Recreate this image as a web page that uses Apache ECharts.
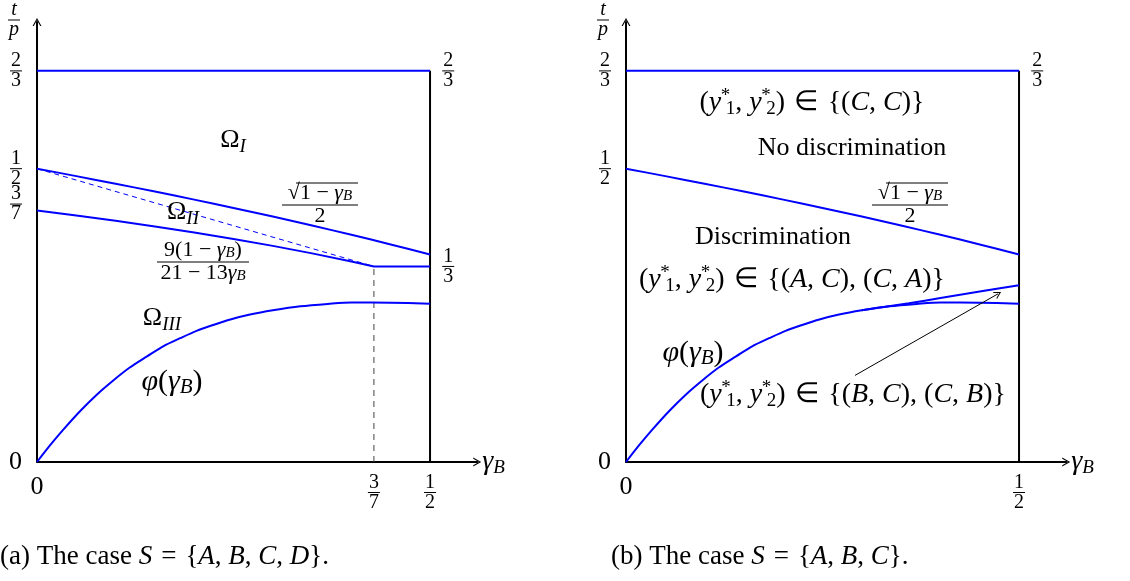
<!DOCTYPE html>
<html><head><meta charset="utf-8">
<script src="https://cdn.jsdelivr.net/npm/echarts@6/dist/echarts.min.js"></script>
<style>html,body{margin:0;padding:0;background:#fff}#c{width:1130px;height:581px}</style>
</head><body><div id="c"></div>
<script>
// ---------- data ----------
const sqrtGamma = [0, 0.05, 0.1, 0.15, 0.2, 0.25, 0.3, 0.35, 0.4, 0.45, 0.5];
const sqrtValue = [0.5, 0.4873, 0.4743, 0.4610, 0.4472, 0.4330, 0.4183, 0.4031, 0.3873, 0.3708, 0.3536];
const boundGamma = [0, 0.05, 0.1, 0.15, 0.2, 0.25, 0.3, 0.35, 0.4, 0.4286, 0.5];
const boundValue = [0.4286, 0.4201, 0.4112, 0.4016, 0.3913, 0.3803, 0.3684, 0.3556, 0.3418, 0.3333, 0.3333];
const chordGamma = [0, 0.4286];
const chordValue = [0.5, 0.3333];
const phiGamma = [0, 0.017, 0.034, 0.055, 0.076, 0.097, 0.118, 0.14, 0.161, 0.182, 0.203, 0.225, 0.246, 0.271, 0.3, 0.335, 0.37, 0.4, 0.45, 0.5];
const phiValue = [0, 0.029, 0.056, 0.087, 0.1148, 0.139, 0.161, 0.180, 0.1976, 0.211, 0.2236, 0.234, 0.243, 0.2513, 0.2585, 0.2654, 0.2695, 0.2719, 0.2715, 0.2699];
const upperGamma = [0.3, 0.33, 0.36, 0.4, 0.45, 0.5];
const upperValue = [0.2585, 0.2645, 0.2705, 0.2795, 0.2905, 0.3014];
const topGamma = [0, 0.5];
const topValue = [0.6667, 0.6667];
const edgeGamma = [0.5, 0.5];
const edgeValue = [0, 0.6667];
const guideGamma = [0.4286, 0.4286];
const guideValue = [0, 0.3333];
const arrowFrom = [0.2913, 0.1476];
const arrowTo = [0.4733, 0.2867];

// tick labels
const xTicksA = [0, 3/7, 1/2];        const xLabelsA = ['0', '3/7', '1/2'];
const yTicksA = [0, 3/7, 1/2, 2/3];   const yLabelsA = ['0', '3/7', '1/2', '2/3'];
const yRightTicksA = [1/3, 2/3];      const yRightLabelsA = ['1/3', '2/3'];
const xTicksB = [0, 1/2];             const xLabelsB = ['0', '1/2'];
const yTicksB = [0, 1/2, 2/3];        const yLabelsB = ['0', '1/2', '2/3'];
const yRightTicksB = [2/3];           const yRightLabelsB = ['2/3'];

// ---------- helpers ----------
const SERIF = 'Liberation Serif';
const BLUE = '#0000ff';
const zip = (a, b) => a.map((v, i) => [v, b[i]]);
const fracRich = {
  z: {fontFamily: SERIF, fontSize: 26, lineHeight: 26, color: '#000'},
  n: {fontFamily: SERIF, fontSize: 20, lineHeight: 17, align: 'center', color: '#000'},
  d: {fontFamily: SERIF, fontSize: 20, lineHeight: 17, align: 'center', color: '#000'},
  bar: {width: 12, height: 1, lineHeight: 3, backgroundColor: '#000', align: 'center'},
  sp: {lineHeight: 13}
};
function labelText(lab, shiftUp) {
  if (lab.indexOf('/') < 0) return '{z|' + lab + '}';
  const [a, b] = lab.split('/');
  return '{n|' + a + '}\n{bar| }\n{d|' + b + '}' + (shiftUp ? '\n{sp| }' : '');
}
function lookup(ticks, labels, shiftVal) {
  return function (v) {
    const i = ticks.findIndex(t => Math.abs(t - v) < 1e-9);
    if (i < 0) return '';
    return labelText(labels[i], shiftVal != null && Math.abs(ticks[i] - shiftVal) < 1e-9);
  };
}
const ARROW = 'path://M0,9 L5,0 L10,9 L8.6,9 L5,2.6 L1.4,9 Z';
const axisLineStyle = {show: true, onZero: false, symbol: ['none', ARROW], symbolSize: [10, 8],
  lineStyle: {color: '#000', width: 2}};
const gammaName = '{i|γ}{s|B}';
const nameRich = {
  i: {fontFamily: SERIF, fontSize: 28, fontStyle: 'italic', lineHeight: 30},
  s: {fontFamily: SERIF, fontSize: 19, fontStyle: 'italic', lineHeight: 18, verticalAlign: 'bottom'}
};

function xAxisFor(idx, ticks, labels) {
  return {
    gridIndex: idx, type: 'value', min: 0, max: 0.56,
    axisLine: axisLineStyle, axisTick: {show: false}, splitLine: {show: false},
    axisLabel: {customValues: ticks, formatter: lookup(ticks, labels), rich: fracRich, margin: 12},
    name: gammaName, nameLocation: 'end', nameGap: 5,
    nameTextStyle: {rich: nameRich, align: 'left', verticalAlign: 'middle'}
  };
}
function yAxisFor(idx, ticks, labels, shiftVal) {
  return {
    gridIndex: idx, type: 'value', min: 0, max: 0.75,
    axisLine: axisLineStyle, axisTick: {show: false}, splitLine: {show: false},
    axisLabel: {customValues: ticks, formatter: lookup(ticks, labels, shiftVal), rich: fracRich, margin: 15},
    name: '{n|t}\n{bar| }\n{d|p}', nameLocation: 'end', nameGap: 2,
    nameTextStyle: {rich: {n: Object.assign({}, fracRich.n, {fontStyle: 'italic'}), d: Object.assign({}, fracRich.d, {fontStyle: 'italic'}), bar: fracRich.bar},
      align: 'right', verticalAlign: 'middle', padding: [0, 17, 0, 0]}
  };
}
function yRightFor(idx, ticks, labels) {
  return {
    gridIndex: idx, type: 'value', min: 0, max: 0.75, position: 'right', offset: -47,
    axisLine: {show: false}, axisTick: {show: false}, splitLine: {show: false},
    axisLabel: {customValues: ticks, formatter: lookup(ticks, labels), rich: fracRich, margin: 12}
  };
}
function lineSeries(xi, yi, gx, gy, opts) {
  return Object.assign({
    type: 'line', xAxisIndex: xi, yAxisIndex: yi, data: zip(gx, gy), showSymbol: false, symbol: 'none',
    silent: true, animation: false, lineStyle: {color: BLUE, width: 2}
  }, opts || {});
}

// ---------- text annotations ----------
const M = {
  i: {fontFamily: SERIF, fontSize: 28, fontStyle: 'italic', lineHeight: 32},
  s: {fontFamily: SERIF, fontSize: 19, fontStyle: 'italic', lineHeight: 18, verticalAlign: 'bottom'},
  sn: {fontFamily: SERIF, fontSize: 19, lineHeight: 18, verticalAlign: 'bottom'},
  p: {fontFamily: SERIF, fontSize: 19, lineHeight: 18, verticalAlign: 'top', width: 0.5},
  g: {width: 4},
  pi: {fontFamily: SERIF, fontSize: 30, fontStyle: 'italic', lineHeight: 32},
  pr: {fontFamily: SERIF, fontSize: 30, lineHeight: 32},
  ps: {fontFamily: SERIF, fontSize: 21, fontStyle: 'italic', lineHeight: 19, verticalAlign: 'bottom'},
  n: {fontFamily: SERIF, fontSize: 22, lineHeight: 20},
  ni: {fontFamily: SERIF, fontSize: 22, fontStyle: 'italic', lineHeight: 20},
  ns: {fontFamily: SERIF, fontSize: 15, fontStyle: 'italic', lineHeight: 15, verticalAlign: 'bottom'},
  bar1: {width: 76, height: 1, lineHeight: 3, backgroundColor: '#000'},
  bar2: {width: 92, height: 1, lineHeight: 3, backgroundColor: '#000'}
};
function txt(x, y, text, size) {
  return {type: 'text', x: x, y: y, silent: true, z: 100,
    style: {text: text, rich: M, fontFamily: SERIF, fontSize: size || 26, lineHeight: 32, fill: '#000',
      align: 'center', verticalAlign: 'middle'}};
}
const SP = '\u2004';   // three-per-em space (math operator spacing)
const TH = '\u2005';   // four-per-em space
const setHead = '({i|y}{g| }{p|*}{sn|1}, {i|y}{g| }{p|*}{sn|2})' + SP + '∈' + SP;
const setCC = setHead + '{({i|C}, {i|C})}';
const setAC = setHead + '{({i|A}, {i|C}), ({i|C}, {i|A})}';
const setBC = setHead + '{({i|B}, {i|C}), ({i|C}, {i|B})}';
const phiText = '{pi|φ}{pr|(}{pi|γ}{ps|B}{pr|)}';
const sqrtFrac = '{n|√1' + TH + '−' + TH + '}{ni|γ}{ns|B}\n{bar1| }\n{n|2}';
const boundFrac = '{n|9(1' + TH + '−' + TH + '}{ni|γ}{ns|B}{n|)}\n{bar2| }\n{n|21' + TH + '−' + TH + '13}{ni|γ}{ns|B}';

function fracTxt(x, y, text) {
  return {type: 'text', x: x, y: y, silent: true, z: 100,
    style: {text: text, rich: M, fontFamily: SERIF, fontSize: 22, lineHeight: 20, fill: '#000',
      align: 'center', verticalAlign: 'middle'}};
}
function overline(x1, x2, y) {
  return {type: 'line', silent: true, z: 100, shape: {x1: x1, y1: y, x2: x2, y2: y}, style: {stroke: '#000', lineWidth: 1}};
}
const capRich = {i: {fontFamily: SERIF, fontSize: 27, fontStyle: 'italic'}};

const graphics = [
  txt(233, 140, 'Ω{s|I}'),
  txt(183, 212, 'Ω{s|II}'),
  txt(162, 318, 'Ω{s|III}'),
  txt(172, 382, phiText),
  fracTxt(320, 205, sqrtFrac), overline(296, 358, 183),
  fracTxt(203, 262, boundFrac),
  txt(812, 103, setCC, 28),
  txt(852, 148, 'No discrimination'),
  fracTxt(910, 205, sqrtFrac), overline(886, 948, 183),
  txt(773, 237, 'Discrimination'),
  txt(792, 280, setAC, 28),
  txt(693, 353, phiText),
  txt(853, 395, setBC, 28),
  {type: 'text', left: 0, top: 543, silent: true,
    style: {text: '(a) The case {i|S}' + SP + '=' + SP + '{{i|A}, {i|B}, {i|C}, {i|D}}.', fontFamily: SERIF, fontSize: 27, fill: '#000', rich: capRich}},
  {type: 'text', left: 611, top: 543, silent: true,
    style: {text: '(b) The case {i|S}' + SP + '=' + SP + '{{i|A}, {i|B}, {i|C}}.', fontFamily: SERIF, fontSize: 27, fill: '#000', rich: capRich}}
];

const chart = echarts.init(document.getElementById('c'), null, {renderer: 'canvas'});
chart.setOption({
  animation: false,
  backgroundColor: '#fff',
  grid: [
    {left: 37, top: 19.9, width: 440.2, height: 442.1},
    {left: 626, top: 19.9, width: 440.2, height: 442.1}
  ],
  xAxis: [xAxisFor(0, xTicksA, xLabelsA), xAxisFor(1, xTicksB, xLabelsB)],
  yAxis: [yAxisFor(0, yTicksA, yLabelsA, 3/7), yRightFor(0, yRightTicksA, yRightLabelsA),
          yAxisFor(1, yTicksB, yLabelsB), yRightFor(1, yRightTicksB, yRightLabelsB)],
  series: [
    lineSeries(0, 0, edgeGamma, edgeValue, {lineStyle: {color: '#000', width: 2}}),
    lineSeries(0, 0, topGamma, topValue),
    lineSeries(0, 0, sqrtGamma, sqrtValue, {smooth: 0.3}),
    lineSeries(0, 0, boundGamma, boundValue),
    lineSeries(0, 0, chordGamma, chordValue, {lineStyle: {color: BLUE, width: 1, type: [5, 4]}}),
    lineSeries(0, 0, guideGamma, guideValue, {lineStyle: {color: '#444', width: 1, type: [6, 5]}}),
    lineSeries(0, 0, phiGamma, phiValue, {smooth: 0.3}),
    lineSeries(1, 2, edgeGamma, edgeValue, {lineStyle: {color: '#000', width: 2}}),
    lineSeries(1, 2, topGamma, topValue),
    lineSeries(1, 2, sqrtGamma, sqrtValue, {smooth: 0.3}),
    lineSeries(1, 2, upperGamma, upperValue, {smooth: 0.3}),
    lineSeries(1, 2, phiGamma, phiValue, {smooth: 0.3,
      markLine: {silent: true, animation: false, symbol: ['none', ARROW], symbolSize: [8, 7],
        label: {show: false}, lineStyle: {color: '#000', width: 1, type: 'solid'},
        data: [[{coord: arrowFrom}, {coord: arrowTo}]]}})
  ],
  graphic: graphics
});
</script></body></html>
